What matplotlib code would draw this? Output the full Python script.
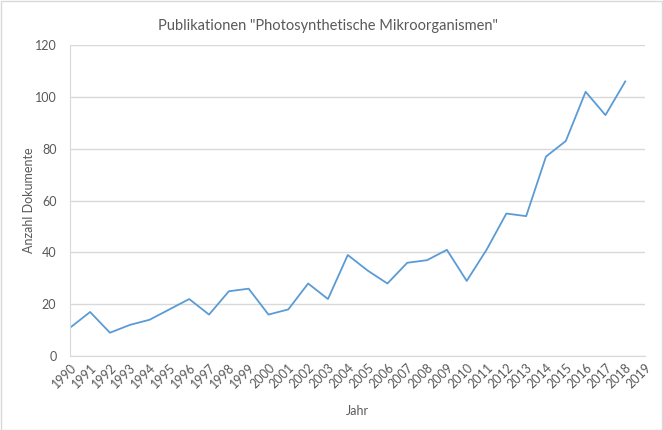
import matplotlib.pyplot as plt

years = list(range(1990, 2020))
docs = [11, 17, 9, 12, 14, 18, 22, 16, 25, 26, 16, 18, 28, 22, 39, 33, 28, 36, 37, 41,
        29, 41, 55, 54, 77, 83, 102, 93, 106]

plt.rcParams['font.family'] = ['Lato', 'DejaVu Sans']
txt = "#595959"

fig = plt.figure(figsize=(6.63, 4.30), dpi=100)
ax = fig.add_axes([0.106, 0.172, 0.867, 0.723])
fig.patches.append(plt.Rectangle((0.001, 0.001), 0.997, 0.997, transform=fig.transFigure,
                                 fill=False, edgecolor="#d9d9d9", linewidth=1))

ax.plot(years[:len(docs)], docs, color="#5B9BD5", linewidth=1.3)
ax.set_xlim(1990, 2019)
ax.set_ylim(0, 120)
ax.set_yticks(range(0, 121, 20))
ax.set_xticks(years)
ax.set_xticklabels([str(y) for y in years], rotation=45, ha="right", rotation_mode="anchor")
ax.tick_params(axis="both", length=0, colors=txt, labelsize=9)
ax.tick_params(axis="y", pad=10)
ax.tick_params(axis="x", pad=4)
ax.grid(axis="y", color="#d9d9d9", linewidth=1)
ax.set_axisbelow(True)
for s in ["top", "right"]:
    ax.spines[s].set_visible(False)
ax.spines["left"].set_color("#d9d9d9")
ax.spines["bottom"].set_color("#d9d9d9")

fig.suptitle('Publikationen "Photosynthetische Mikroorganismen"', color=txt, fontsize=10.5,
             x=0.495, y=0.955)
ax.set_xlabel("Jahr", color=txt, fontsize=9, labelpad=10)
ax.set_ylabel("Anzahl Dokumente", color=txt, fontsize=9, labelpad=0)

fig.savefig("out.png")
